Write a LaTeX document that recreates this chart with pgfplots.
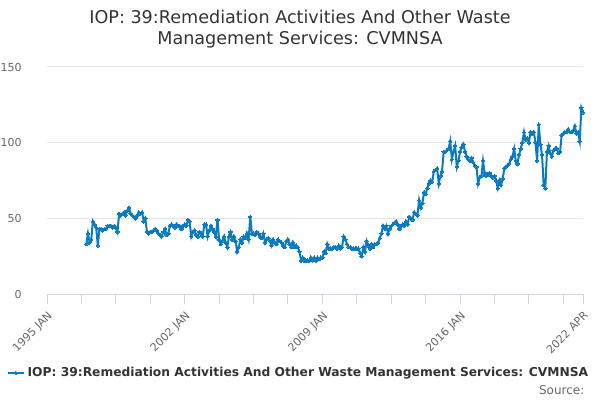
\documentclass[border=0pt]{standalone}
\usepackage{fontspec}
\setmainfont{DejaVu Sans}
\usepackage{pgfplots}
\usepackage{pgfplotstable}
\pgfplotsset{compat=1.18}
\definecolor{series}{HTML}{0A7BC1}
\definecolor{titlec}{HTML}{333333}
\definecolor{tickc}{HTML}{666666}
\definecolor{gridc}{HTML}{E6E6E6}
\definecolor{axisc}{HTML}{CCD6EB}
\pgfplotstableread{
m v
24 33
25 40
26 34
27 36
28 48
29 46
30 44
31 32
32 43
33 43
34 42
35 43
36 43
37 45
38 45
39 45
40 44
41 45
42 44
43 41
44 53
45 52
46 53
47 54
48 52
49 55
50 57
51 53
52 52
53 51
54 50
55 52
56 54
57 53
58 54
59 48
60 50
61 41
62 40
63 41
64 41
65 42
66 43
67 42
68 40
69 39
70 38
71 41
72 43
73 39
74 40
75 45
76 46
77 45
78 44
79 46
80 45
81 45
82 43
83 45
84 46
85 45
86 49
87 48
88 38
89 41
90 42
91 39
92 38
93 41
94 40
95 38
96 46
97 46
98 38
99 42
100 45
101 43
102 41
103 38
104 49
105 36
106 33
107 35
108 38
109 34
110 31
111 38
112 41
113 36
114 38
115 35
116 28
117 31
118 36
119 34
120 38
121 37
122 40
123 36
124 51
125 40
126 40
127 39
128 41
129 40
130 38
131 37
132 40
133 34
134 36
135 37
136 35
137 32
138 36
139 34
140 33
141 36
142 35
143 34
144 32
145 31
146 35
147 36
148 33
149 31
150 34
151 31
152 32
153 31
154 28
155 22
156 24
157 22
158 22
159 22
160 22
161 24
162 22
163 24
164 22
165 24
166 23
167 24
168 24
169 28
170 27
171 33
172 30
173 30
174 30
175 31
176 31
177 30
178 32
179 30
180 31
181 38
182 36
183 33
184 31
185 31
186 30
187 30
188 30
189 30
190 30
191 27
192 25
193 31
194 28
195 35
196 32
197 30
198 33
199 31
200 33
201 33
202 34
203 37
204 40
205 45
206 43
207 45
208 40
209 43
210 45
211 46
212 47
213 48
214 46
215 43
216 45
217 46
218 45
219 48
220 46
221 51
222 50
223 49
224 54
225 53
226 52
227 62
228 57
229 60
230 67
231 66
232 70
233 73
234 75
235 74
236 81
237 82
238 83
239 73
240 78
241 81
242 94
243 94
244 95
245 96
246 101
247 89
248 94
249 98
250 84
251 88
252 94
253 97
254 99
255 94
256 91
257 89
258 88
259 90
260 87
261 85
262 84
263 73
264 77
265 78
266 88
267 80
268 78
269 79
270 80
271 78
272 77
273 78
274 75
275 70
276 75
277 72
278 76
279 83
280 84
281 85
282 86
283 89
284 91
285 96
286 88
287 86
288 92
289 96
290 100
291 107
292 102
293 103
294 100
295 107
296 106
297 107
298 100
299 88
300 112
301 99
302 92
303 72
304 70
305 94
306 98
307 93
308 91
309 95
310 96
311 96
312 93
313 94
314 105
315 106
316 107
317 107
318 109
319 107
320 107
321 108
322 111
323 106
324 107
325 101
326 123
327 120
}\datatable
\begin{document}
\begin{tikzpicture}
\useasboundingbox (0pt,0pt) rectangle (450pt,300pt);
\node[font=\fontsize{13.2}{15.75}\selectfont, text=titlec, align=center] at (225pt,277.9pt) {IOP: 39:Remediation Activities And Other Waste\\Management Services: CVMNSA};
\begin{axis}[
  at={(35.25pt,79.5pt)}, anchor=south west,
  scale only axis, width=402pt, height=170.25pt,
  xmin=0, xmax=327, ymin=0, ymax=150,
  axis x line*=bottom, axis y line*=left,
  y axis line style={draw=none},
  x axis line style={color=axisc, line width=0.75pt},
  ytick={0,50,100,150},
  ymajorgrids, grid style={color=gridc, line width=0.75pt},
  ytick style={draw=none},
  yticklabel style={font=\fontsize{8.25}{10}\selectfont, text=tickc, anchor=east, xshift=-8pt},
  xtick={0,84,168,252,327},
  xticklabels={1995 JAN,2002 JAN,2009 JAN,2016 JAN,2022 APR},
  minor xtick={21,42,63,105,126,147,189,210,231,273,294,315},
  tick align=outside,
  major tick length=7.5pt, minor tick length=7.5pt,
  xtick style={color=axisc, line width=0.75pt},
  minor x tick style={color=axisc, line width=0.75pt},
  xticklabel style={font=\fontsize{8.25}{10}\selectfont, text=tickc, rotate=45, anchor=north east},
  /pgf/number format/assume math mode=true,
  legend style={at={(0.47,-0.348)}, anchor=center, draw=none, fill=none, font=\bfseries\fontsize{9.2}{11}\selectfont, text=titlec, inner sep=0pt},
  legend image code/.code={\draw[mark repeat=2,mark phase=2,#1] plot coordinates {(0pt,0pt) (6pt,0pt) (12pt,0pt)};},
  clip=false,
]
\addplot[color=series, line width=1.5pt, mark=*, mark size=1.3pt, mark options={fill=series, draw=series, line width=0pt}] table[x=m, y=v] {\datatable};
\addlegendentry{IOP: 39:Remediation Activities And Other Waste Management Services: CVMNSA}
\end{axis}
\node[anchor=east, font=\fontsize{9}{11}\selectfont, text=tickc] at (441.75pt,7.5pt) {Source:};
\end{tikzpicture}
\end{document}
